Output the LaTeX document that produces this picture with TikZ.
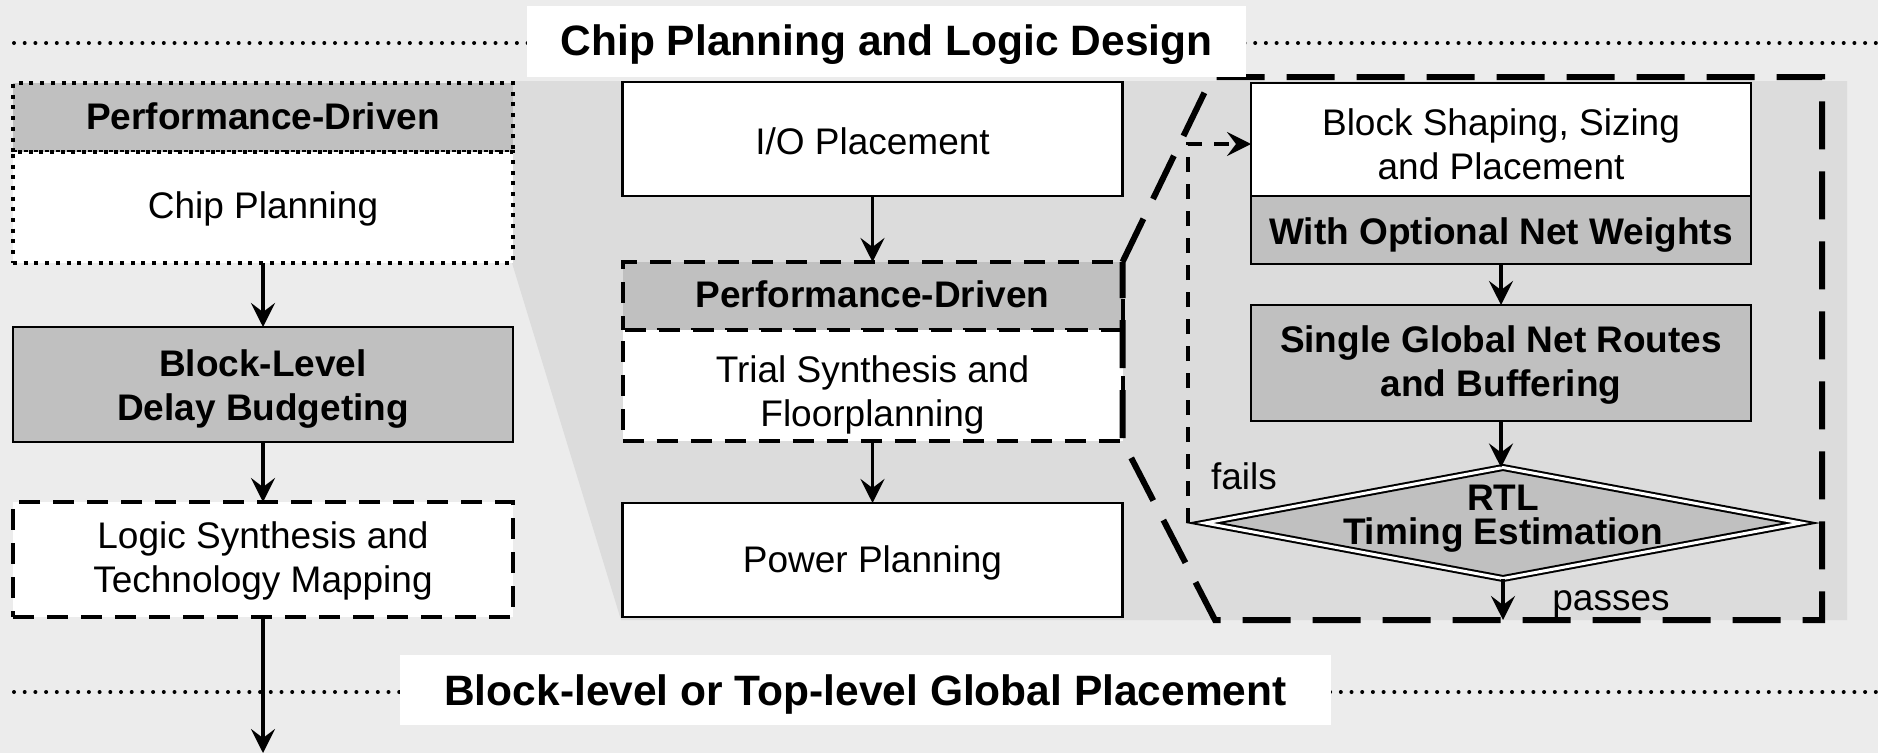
\documentclass[tikz,border=0pt]{standalone}
\usepackage{fontspec}
\setmainfont{Liberation Sans}
\usetikzlibrary{arrows.meta,shapes.geometric,calc}
\definecolor{bgc}{HTML}{ECECEC}
\definecolor{darkc}{HTML}{DCDCDC}
\definecolor{greyc}{HTML}{C0C0C0}
\begin{document}
\begin{tikzpicture}[x=1pt,y=-1pt,
  every node/.style={inner sep=0pt, outer sep=0pt},
  txt/.style={font=\fontsize{37}{44}\selectfont, align=center},
  btxt/.style={font=\fontsize{37}{44}\selectfont\bfseries, align=center},
  ttl/.style={font=\fontsize{42.5}{50}\selectfont\bfseries},
  solidbox/.style={draw, line width=2.5pt, minimum width=500pt},
  dashbox/.style={draw, line width=4pt, dash pattern=on 21pt off 13pt, minimum width=500pt},
  dotbox/.style={draw, line width=4pt, dash pattern=on 4pt off 6.7pt, minimum width=500pt},
  arr/.style={draw, line width=3.5pt, -{Stealth[length=24pt,width=24pt,inset=9pt]}},
  fbarr/.style={draw, line width=3.5pt, dash pattern=on 15pt off 12pt, -{Stealth[length=24pt,width=24pt,inset=9pt]}},
  callout/.style={draw, line width=6pt, dash pattern=on 48pt off 22pt, line join=miter},
  dotline/.style={draw, line width=4pt, line cap=round, dash pattern=on 0pt off 10.7pt},
  titlebox/.style={fill=white},
]
\useasboundingbox (0,0) rectangle (1878,753);
\fill[bgc] (0,0) rectangle (1878,753);
% zoomed background region
\fill[darkc] (512,81) -- (1847,81) -- (1847,620) -- (621,620) -- (512,263) -- cycle;

% dotted separator lines
\coordinate (dl1) at (14,43);
\coordinate (dr1) at (1878,43);
\coordinate (dl2) at (14,692);
\coordinate (dr2) at (1878,692);
\draw[dotline] (dl1) -- (dr1);
\draw[dotline] (dl2) -- (dr2);

% left column
\node[dotbox, fill=greyc, minimum height=69pt] (cph) at (263,117.5) {};
\node[dotbox, fill=white, minimum height=111pt] (cpb) at (263,207.5) {};
\node[solidbox, fill=greyc, minimum height=115pt] (dbud) at (263,384.5) {};
\node[dashbox, fill=white, minimum height=115pt] (lsyn) at (263,559.5) {};
\coordinate (outend) at (263,753);
\node[btxt] (cpht) at ($(cph.center)+(0,-1)$) {Performance-Driven};
\node[txt] (cpbt) at ($(cpb.center)+(0,1)$) {Chip Planning};
\node[btxt] (dbudt) at ($(dbud.center)+(0,5)$) {Block-Level\\Delay Budgeting};
\node[txt] (lsynt) at ($(lsyn.center)+(0,1)$) {Logic Synthesis and\\Technology Mapping};

% center column
\node[solidbox, fill=white, minimum height=114pt] (iop) at (872.5,139) {};
\node[dashbox, fill=greyc, minimum height=68pt] (pdh) at (872.5,296) {};
\node[dashbox, fill=white, minimum height=111pt] (tsf) at (872.5,385.5) {};
\node[solidbox, fill=white, minimum height=114pt] (pwr) at (872.5,560) {};
\node[txt] (iopt) at ($(iop.center)+(0,2.4)$) {I/O Placement};
\node[btxt] (pdht) at ($(pdh.center)+(0,-1.5)$) {Performance-Driven};
\node[txt] (tsft) at ($(tsf.center)+(0,9)$) {Trial Synthesis and\\Floorplanning};
\node[txt] (pwrt) at ($(pwr.center)+(0,3.4)$) {Power Planning};

% right column
\node[solidbox, fill=white, minimum height=113pt] (bsh) at (1501,139.5) {};
\node[solidbox, fill=greyc, minimum height=68pt] (onw) at (1501,230) {};
\node[solidbox, fill=greyc, minimum height=116pt] (sgn) at (1501,363) {};
\node[diamond, draw, line width=2pt, double=white, double distance=3pt, fill=greyc,
      minimum width=596pt, minimum height=111pt] (rtl) at (1503,523) {};
\node[txt] (bsht) at ($(bsh.center)+(0,5)$) {Block Shaping, Sizing\\and Placement};
\node[btxt] (onwt) at ($(onw.center)+(0,4.7)$) {With Optional Net Weights};
\node[btxt] (sgnt) at ($(sgn.center)+(0,2)$) {Single Global Net Routes\\and Buffering};
\node[font=\fontsize{37}{34}\selectfont\bfseries, align=center] (rtltxt) at (1503,518.5) {RTL\\Timing Estimation};
\node[txt] (fails) at (1244,476) {fails};
\node[txt, anchor=base] (passes) at (1611,610) {passes};
\coordinate (passend) at (1503,620);
\coordinate (fbstart) at ($(rtl.west)+(-17,0)$);
\coordinate (fby) at (0,144);

% arrows
\draw[arr] (cpb.south) -- (dbud.north);
\draw[arr] (dbud.south) -- (lsyn.north);
\draw[arr] (lsyn.south) -- (outend);
\draw[arr] (iop.south) -- (pdh.north);
\draw[arr] (tsf.south) -- (pwr.north);
\draw[arr] (onw.south) -- (sgn.north);
\draw[arr] (sgn.south) -- (sgn.south |- rtl.north);
\draw[arr] (rtl.south) -- (passend);
\draw[fbarr] (fbstart) |- (fby -| bsh.west);

% zoom callout outline
\draw[callout] (pdh.north east) -- (1212,77) -- (1822,77) -- (1822,620) -- (1215,620) -- (tsf.south east) -- cycle;

% titles
\node[titlebox, minimum width=719pt, minimum height=71pt] (t1) at (886.5,41.5) {};
\node[ttl, anchor=base] (t1t) at (886.5,55) {Chip Planning and Logic Design};
\node[titlebox, minimum width=931pt, minimum height=70pt] (t2) at (865.5,690) {};
\node[ttl, anchor=base] (t2t) at (865.5,705) {Block-level or Top-level Global Placement};
\end{tikzpicture}
\end{document}
